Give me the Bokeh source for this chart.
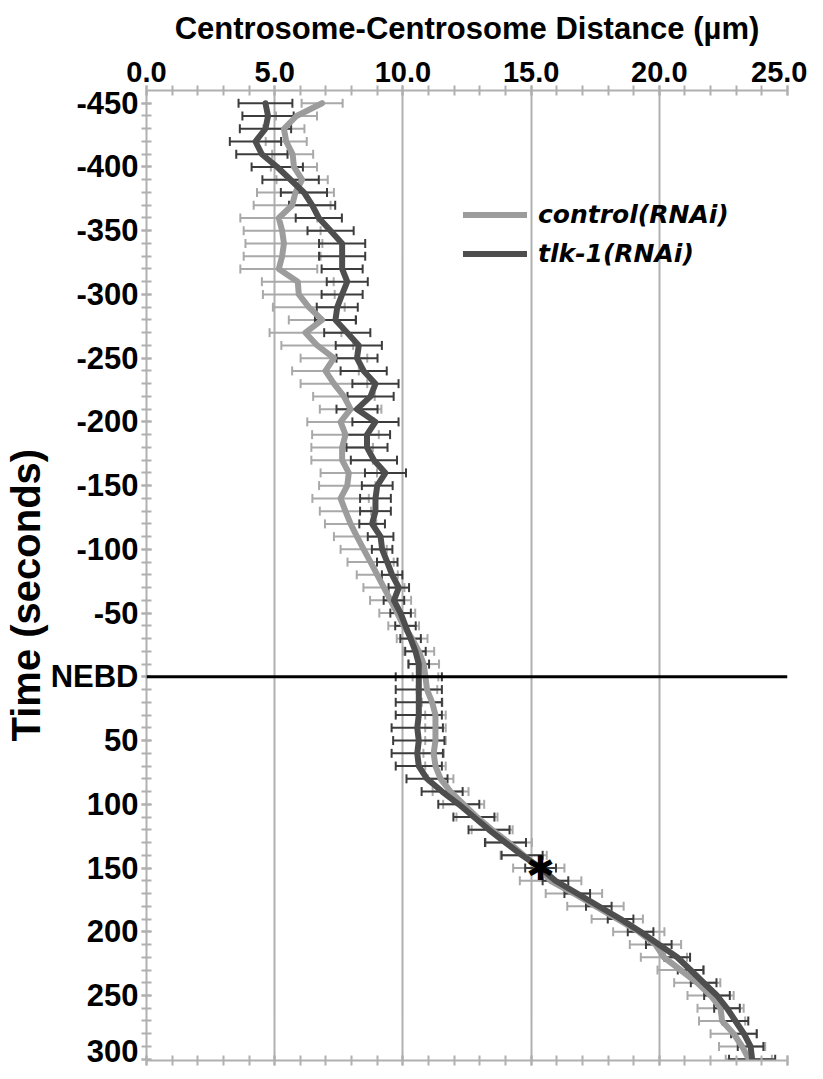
from bokeh.plotting import figure
from bokeh.models import (Range1d, FixedTicker, LinearAxis, Span, Whisker, TeeHead,
                          ColumnDataSource, Legend, LegendItem, Title)
from bokeh.core.properties import value
from bokeh.embed import file_html
from bokeh.resources import INLINE

# ---------------- data ----------------
time_s = list(range(-450, 301, 10))

control_mean = [6.85, 5.85, 5.36, 5.45, 5.70, 5.75, 6.07, 5.81, 5.68, 5.16,
                5.29, 5.36, 5.29, 5.16, 5.90, 5.94, 6.33, 6.85, 6.20, 6.66,
                7.31, 6.98, 7.31, 7.70, 7.96, 7.57, 7.76, 7.63, 7.63, 7.89,
                7.83, 7.57, 7.76, 7.96, 8.21, 8.47, 8.74, 9.00, 9.26, 9.52,
                9.78, 10.03, 10.36, 10.62, 10.81, 10.88, 10.94, 11.14, 11.27, 11.27,
                11.27, 11.20, 11.27, 11.47, 11.86, 12.37, 12.89, 13.48, 14.13, 14.71,
                15.30, 15.76, 16.67, 17.51, 18.36, 19.20, 19.85, 20.18, 20.83, 21.48,
                22.00, 22.39, 22.45, 22.90, 23.23, 23.49]
control_err = [0.8, 0.8, 0.8, 0.8, 0.8, 0.9, 1.0, 1.5, 1.5, 1.5,
               1.5, 1.5, 1.5, 1.5, 1.4, 1.4, 1.4, 1.3, 1.4, 1.4,
               1.3, 1.3, 1.3, 1.2, 1.2, 1.3, 1.3, 1.2, 1.2, 1.1,
               1.1, 1.1, 1.0, 1.0, 0.9, 0.9, 0.9, 0.8, 0.8, 0.8,
               0.7, 0.6, 0.6, 0.6, 0.6, 0.5, 0.4, 0.4, 0.4, 0.4,
               0.4, 0.4, 0.4, 0.5, 0.7, 0.8, 0.8, 0.8, 0.9, 0.9,
               1.0, 1.2, 1.1, 1.1, 1.0, 1.0, 1.0, 0.9, 0.9, 0.9,
               0.9, 0.9, 0.9, 0.9, 0.9, 0.9]

tlk1_mean = [4.64, 4.74, 4.64, 4.25, 4.50, 5.10, 5.62, 6.14, 6.46, 6.72,
             7.18, 7.63, 7.63, 7.63, 7.83, 7.63, 7.44, 7.37, 7.83, 8.28,
             8.21, 8.47, 8.93, 8.74, 8.21, 8.93, 8.60, 8.60, 8.87, 9.32,
             9.00, 8.93, 8.93, 8.80, 9.13, 9.19, 9.39, 9.58, 9.84, 9.65,
             9.91, 10.10, 10.30, 10.49, 10.62, 10.62, 10.62, 10.62, 10.62, 10.56,
             10.62, 10.56, 10.62, 10.94, 11.53, 12.18, 12.77, 13.36, 14.00, 14.65,
             15.37, 15.95, 16.80, 17.64, 18.49, 19.27, 19.98, 20.70, 21.22, 21.73,
             22.25, 22.64, 22.97, 23.30, 23.56, 23.62]
tlk1_err = [1.05, 1.0, 1.0, 1.0, 1.0, 1.0, 1.1, 0.9, 0.9, 0.9,
            0.9, 0.9, 0.9, 0.8, 0.8, 0.8, 0.8, 0.8, 0.9, 0.9,
            0.8, 0.9, 0.9, 0.9, 0.8, 0.9, 0.9, 0.8, 0.9, 0.8,
            0.6, 0.6, 0.6, 0.5, 0.5, 0.4, 0.4, 0.4, 0.4, 0.4,
            0.4, 0.4, 0.4, 0.4, 0.4, 0.9, 0.9, 0.9, 0.9, 1.0,
            1.0, 1.0, 0.9, 0.8, 0.8, 0.8, 0.8, 0.8, 0.8, 0.8,
            0.6, 0.5, 0.5, 0.5, 0.5, 0.5, 0.5, 0.5, 0.5, 0.5,
            0.5, 0.5, 0.5, 0.5, 0.5, 0.9]

star_x = [15.37]
star_t = [150]

x_ticks = [0, 5, 10, 15, 20, 25]
x_tick_labels = ["0.0", "5.0", "10.0", "15.0", "20.0", "25.0"]
x_minor = list(range(0, 26))
y_ticks = [-450, -400, -350, -300, -250, -200, -150, -100, -50, 0,
           50, 100, 150, 200, 250, 300]
y_tick_labels = ["-450", "-400", "-350", "-300", "-250", "-200", "-150", "-100",
                 "-50", "NEBD", "50", "100", "150", "200", "250", "300"]
y_minor = list(range(-450, 301, 10))

# ---------------- styles ----------------
LIGHT = "#9c9c9c"
LIGHT_BAR = "#a9a9a9"
DARK = "#4e4e4e"
DARK_BAR = "#3c3c3c"
AXIS_GRAY = "#b0b0b0"
FONT = "Liberation Sans"

src = ColumnDataSource(dict(
    t=time_s,
    c=control_mean,
    c_lo=[m - e for m, e in zip(control_mean, control_err)],
    c_hi=[m + e for m, e in zip(control_mean, control_err)],
    k=tlk1_mean,
    k_lo=[m - e for m, e in zip(tlk1_mean, tlk1_err)],
    k_hi=[m + e for m, e in zip(tlk1_mean, tlk1_err)],
))

p = figure(frame_width=641, frame_height=970,
           x_range=Range1d(0, 25), y_range=Range1d(301, -460),
           x_axis_location="above",
           output_backend="svg", toolbar_location=None,
           min_border_left=146, min_border_top=90,
           min_border_right=20, min_border_bottom=8)
p.outline_line_color = None
p.background_fill_color = "white"

# x axis (top)
xa = p.xaxis[0]
xa.ticker = FixedTicker(ticks=x_ticks, minor_ticks=x_minor)
xa.major_label_overrides = dict(zip(x_ticks, x_tick_labels))
xa.axis_label = "Centrosome-Centrosome Distance (µm)"
xa.axis_label_text_font = FONT
xa.axis_label_text_font_style = "bold"
xa.axis_label_text_font_size = "31px"
xa.axis_label_text_color = "black"
xa.axis_label_standoff = 13
xa.major_label_text_font = FONT
xa.major_label_text_font_style = "bold"
xa.major_label_text_font_size = "29px"
xa.major_label_text_color = "black"
xa.major_label_standoff = 4

# bottom axis (ticks only, no labels)
xb = LinearAxis(ticker=FixedTicker(ticks=x_ticks, minor_ticks=x_minor),
                major_label_overrides={t: "" for t in x_ticks})
p.add_layout(xb, "below")

for ax in (xa, xb):
    ax.axis_line_color = AXIS_GRAY
    ax.axis_line_width = 2
    ax.major_tick_line_color = AXIS_GRAY
    ax.minor_tick_line_color = AXIS_GRAY
    ax.major_tick_line_width = 2
    ax.minor_tick_line_width = 2
    ax.major_tick_in = 5
    ax.major_tick_out = 5
    ax.minor_tick_in = 5
    ax.minor_tick_out = 5

# y axis
ya = p.yaxis[0]
ya.ticker = FixedTicker(ticks=y_ticks, minor_ticks=y_minor)
ya.major_label_overrides = dict(zip(y_ticks, y_tick_labels))
ya.major_label_text_font = FONT
ya.major_label_text_font_style = "bold"
ya.major_label_text_font_size = "31px"
ya.major_label_text_color = "black"
ya.major_label_standoff = 3
ya.axis_line_color = AXIS_GRAY
ya.axis_line_width = 2
ya.major_tick_line_color = AXIS_GRAY
ya.minor_tick_line_color = AXIS_GRAY
ya.major_tick_line_width = 2
ya.minor_tick_line_width = 2
ya.major_tick_in = 5
ya.major_tick_out = 5
ya.minor_tick_in = 5
ya.minor_tick_out = 5

# y axis title (offset from the bottom of the frame)
p.add_layout(Title(text="Time (seconds)", align="left", offset=319, standoff=0,
                   text_font=FONT, text_font_style="bold",
                   text_font_size="40px", text_color="black"), "left")

# grid
p.xgrid.ticker = FixedTicker(ticks=x_ticks)
p.xgrid.grid_line_color = AXIS_GRAY
p.xgrid.grid_line_width = 2
p.ygrid.visible = False

# error bars
wc = Whisker(source=src, base="t", lower="c_lo", upper="c_hi", dimension="width",
             line_color=LIGHT_BAR, line_width=2, level="underlay",
             lower_head=TeeHead(size=9, line_color=LIGHT_BAR, line_width=2),
             upper_head=TeeHead(size=9, line_color=LIGHT_BAR, line_width=2))
wk = Whisker(source=src, base="t", lower="k_lo", upper="k_hi", dimension="width",
             line_color=DARK_BAR, line_width=2, level="underlay",
             lower_head=TeeHead(size=9, line_color=DARK_BAR, line_width=2),
             upper_head=TeeHead(size=9, line_color=DARK_BAR, line_width=2))
p.add_layout(wc)
p.add_layout(wk)

# NEBD line
p.add_layout(Span(location=0, dimension="width", line_color="black", line_width=3))

# mean lines
lc = p.line(x="c", y="t", source=src, line_color=LIGHT, line_width=6,
            line_join="round", line_cap="round")
lk = p.line(x="k", y="t", source=src, line_color=DARK, line_width=6,
            line_join="round", line_cap="round")

# significance star
p.text(x=star_x, y=star_t, text=["✱"], text_font=value("DejaVu Sans"),
       text_font_size="34px", text_align="center", text_baseline="middle",
       text_color="black")

legend = Legend(items=[LegendItem(label="control(RNAi)", renderers=[lc]),
                       LegendItem(label="tlk-1(RNAi)", renderers=[lk])],
                location=(317, 789), orientation="vertical",
                padding=0, margin=0, spacing=4,
                glyph_width=64, glyph_height=35, label_height=35,
                label_standoff=11,
                label_text_font="DejaVu Sans", label_text_font_style="bold italic",
                label_text_font_size="25px", label_text_color="black",
                border_line_color=None, background_fill_alpha=0)
p.add_layout(legend, "center")

open("out.html", "w").write(file_html(p, INLINE))
